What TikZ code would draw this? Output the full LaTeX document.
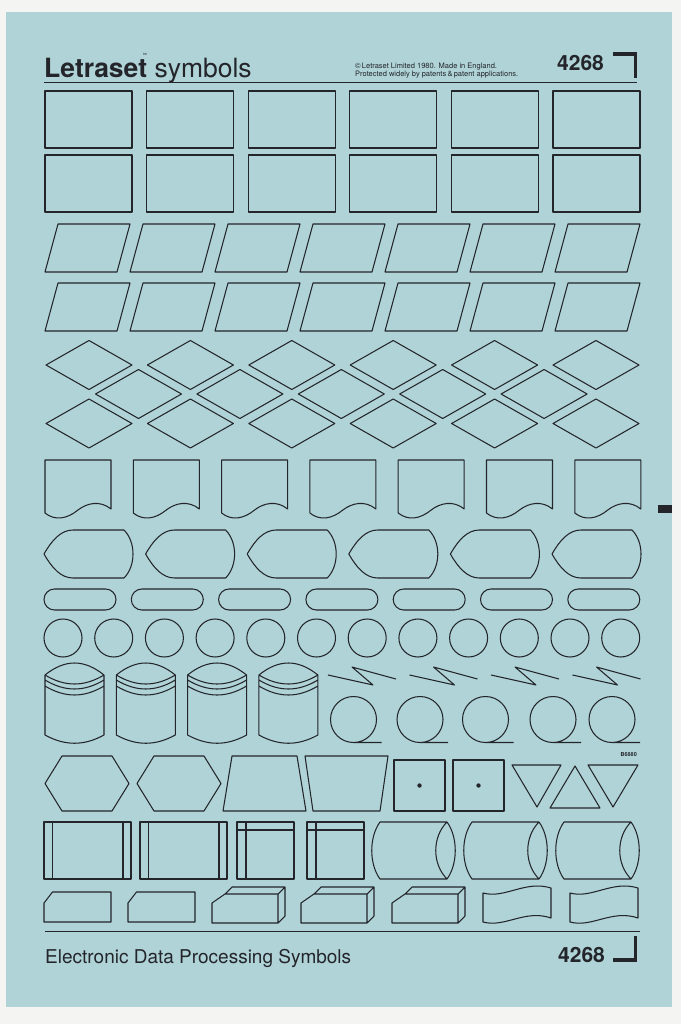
\documentclass[tikz,border=0pt]{standalone}
\usepackage{fontspec}
\setmainfont{TeX Gyre Heros}
\definecolor{sheet}{RGB}{175,211,215}
\definecolor{ink}{RGB}{35,37,42}
\definecolor{paper}{RGB}{244,244,242}
\tikzset{sym/.style={draw=ink,line width=1.05pt,line join=round}}

\begin{document}
\begin{tikzpicture}[x=1pt,y=-1pt]
        \useasboundingbox (0,0) rectangle (681,1024) ;
        \fill[paper] (0,0) rectangle (681,1024) ;
        \fill[sheet] (6,12) rectangle (672,1007) ;
        \fill[ink] (658,505) rectangle (672,513) ;
        % header
        \node[anchor=base west,inner sep=0,text=ink] (title) at (44,78)
        {\fontsize{26.5}{28}\selectfont\textbf{Letraset} symbols} ;
        \node[anchor=base west,inner sep=0,text=ink] (tm) at (143,56) {\fontsize{3.5}{4}\selectfont tm} ;
        \node[anchor=base west,inner sep=0,text=ink] (copy1) at (355,68.5)
        {\fontsize{7.5}{8}\selectfont \textcopyright\,Letraset Limited 1980. Made in England.} ;
        \node[anchor=base west,inner sep=0,text=ink] (copy2) at (355,77)
        {\fontsize{7.5}{8}\selectfont Protected widely by patents\,\&\,patent applications.} ;
        \node[anchor=base west,inner sep=0,text=ink] (numtop) at (557,71) {\fontsize{21}{22}\selectfont\bfseries 4268} ;
        \draw[ink,line width=3.6pt] (613,54) -- (635.5,54) -- (635.5,78) ;
        \draw[ink,line width=1pt] (44,83) -- (637,83) ;
        % boxes
        \foreach \r in {91,155}
          \foreach \i in {0,...,5}
            \draw[sym] ({45+101.6*\i},\r) rectangle ++(87,57) ;
        % parallelograms
        \foreach \r in {272,331}
          \foreach \i in {0,...,6}
            \draw[sym] ({45+85*\i},\r) -- ++(72,0) -- ++(13,-48) -- ++(-72,0) -- cycle ;
        % diamonds
        \foreach \y/\x/\n in {365/89/5,394/138.5/4,423.5/89/5}
          \foreach \i in {0,...,\n}
            \draw[sym] ({\x+101.4*\i-43},\y) -- ++(43,-24.5) -- ++(43,24.5) -- ++(-43,24.5) -- cycle ;
        % documents
        \foreach \i in {0,...,6}
          \draw[sym,shift={({45+88.3*\i},0)}] (0,460) -- (66,460) -- (66,509)
          .. controls (55,500) and (42,503) .. (33,510)
          .. controls (22,519) and (10,521) .. (0,513) -- cycle ;
        % displays
        \foreach \i in {0,...,5}
          \draw[sym,shift={({44+101.6*\i},0)}] (0,554) .. controls (8,540) and (17,530) .. (29,530)
          -- (80,530) .. controls (92,542) and (92,566) .. (80,578)
          -- (29,578) .. controls (17,578) and (8,568) .. (0,554) -- cycle ;
        % terminals
        \foreach \i in {0,...,6}
          \draw[sym,rounded corners=10.5pt] ({44+87.3*\i},589) rectangle ++(72,21) ;
        % connectors
        \foreach \i in {0,...,11}
          \draw[sym] ({63+50.7*\i},638) circle[radius=19] ;
        % drums
        \foreach \i in {0,...,3}
          \draw[sym,shift={({45+71.3*\i},0)}] (0,675) .. controls (20,659) and (39,659) .. (59,675)
          -- (59,735) .. controls (39,746) and (20,746) .. (0,735) -- cycle
          (0,675) .. controls (20,687) and (39,687) .. (59,675)
          (0,680) .. controls (20,692) and (39,692) .. (59,680)
          (0,686) .. controls (20,698) and (39,698) .. (59,686) ;
        % links
        \foreach \i in {0,...,3}
          \draw[sym,shift={({328+81.5*\i},0)}] (0,675) -- (45,685) -- (24,667) -- (68,679) ;
        % tapes
        \foreach \cx in {353.5,420,485.5,553,612}
          \draw[sym] (\cx,719.5) circle[radius=23] (\cx,742.5) -- ++(28,0) ;
        \node[anchor=base east,inner sep=0,text=ink] (code) at (637,756) {\fontsize{5.5}{6}\selectfont\bfseries B6880} ;
        % hexagons, trapezoids
        \foreach \x in {45,137}
          \draw[sym,shift={(\x,0)}] (0,783.5) -- (17,756) -- (67,756) -- (84,783.5) -- (67,811) -- (17,811) -- cycle ;
        \draw[sym] (223,811) -- (232,756) -- (297,756) -- (306,811) -- cycle ;
        \draw[sym] (305,756) -- (388,756) -- (380,811) -- (313,811) -- cycle ;
        \foreach \x in {394,453} {
          \draw[sym] (\x,760) rectangle ++(51,51) ;
          \fill[ink] ({\x+25.5},785.5) circle[radius=2.2] ;
        }
        \draw[sym] (512,765) -- (561,765) -- (537,807) -- cycle ;
        \draw[sym] (575,766) -- (600,808) -- (550,808) -- cycle ;
        \draw[sym] (588,765) -- (638,765) -- (613,807) -- cycle ;
        % predefined process
        \foreach \x in {44,140}
          \draw[sym,shift={(\x,0)}] (0,822) rectangle (87,879) (8.5,822) -- (8.5,879) (79,822) -- (79,879) ;
        \foreach \x in {237,307}
          \draw[sym,shift={(\x,0)}] (0,822) rectangle (57,879) (9,822) -- (9,879) (0,830) -- (57,830) ;
        % direct access
        \foreach \x in {372,464,556}
          \draw[sym,shift={(\x,0)}] (8,822) -- (75,822) .. controls (86,837) and (86,864) .. (75,879)
          -- (8,879) .. controls (-3,864) and (-3,837) .. (8,822) -- cycle
          (75,822) .. controls (60,837) and (60,864) .. (75,879) ;
        % last row
        \foreach \x in {44,128}
          \draw[sym,shift={(\x,0)}] (0,922) -- (0,903) -- (8.5,892) -- (67,892) -- (67,922) -- cycle ;
        \foreach \x in {212,301,392}
          \draw[sym,shift={(\x,0)}] (0,923) -- (0,903) -- (13,894) -- (66,894) -- (66,923) -- cycle
          (13,894) -- (20,887) -- (73,887) -- (66,894)
          (73,887) -- (73,916) -- (66,923) ;
        \foreach \x in {483,570}
          \draw[sym,shift={(\x,0)}] (0,893) .. controls (22,899) and (42,880) .. (68,888)
          -- (68,918) .. controls (42,909) and (22,928) .. (0,922) -- cycle ;
        % footer
        \draw[ink,line width=1pt] (45,931) -- (640,931) ;
        \node[anchor=base west,inner sep=0,text=ink] (foot) at (45,963)
        {\fontsize{19}{21}\selectfont Electronic Data Processing Symbols} ;
        \node[anchor=base west,inner sep=0,text=ink] (numbot) at (558,962) {\fontsize{21}{22}\selectfont\bfseries 4268} ;
        \draw[ink,line width=3.6pt] (613,960) -- (635.5,960) -- (635.5,936) ;
\end{tikzpicture}
\end{document}
